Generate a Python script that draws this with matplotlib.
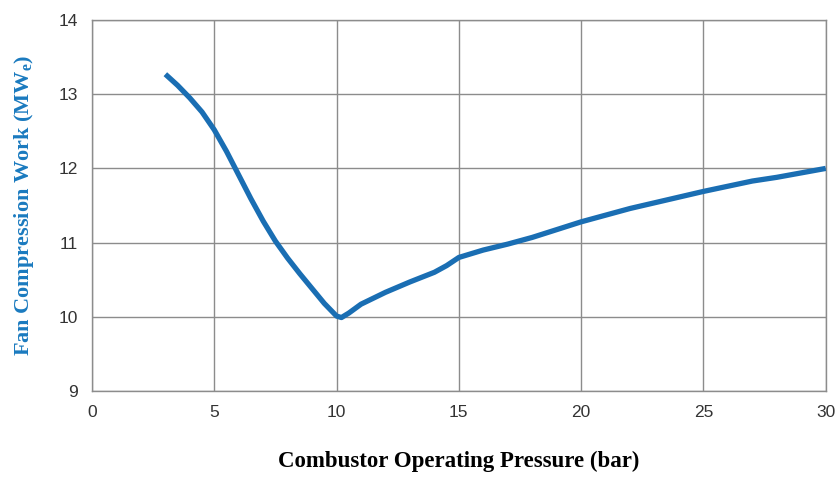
import matplotlib.pyplot as plt

plt.rcParams['mathtext.fontset'] = 'custom'
plt.rcParams['mathtext.rm'] = 'Liberation Serif:bold'
plt.rcParams['mathtext.bf'] = 'Liberation Serif:bold'

# values
pressure = [3, 3.5, 4, 4.5, 5, 5.5, 6, 6.5, 7, 7.5, 8, 8.5, 9, 9.5, 10, 10.2, 10.5, 11, 12, 13, 14, 14.5, 15, 16, 17, 18, 20, 22, 25, 27, 28, 30]
fan_work = [13.27, 13.12, 12.95, 12.76, 12.52, 12.23, 11.91, 11.59, 11.29, 11.02, 10.79, 10.58, 10.38, 10.18, 10.01, 9.99, 10.05, 10.17, 10.33, 10.47, 10.6, 10.69, 10.8, 10.9, 10.98, 11.07, 11.28, 11.46, 11.69, 11.83, 11.88, 12.0]

x_ticks = [0, 5, 10, 15, 20, 25, 30]
y_ticks = [9, 10, 11, 12, 13, 14]

fig = plt.figure(figsize=(8.4, 4.83), dpi=100)
ax = fig.add_axes([0.1095, 0.1905, 0.8735, 0.768])

ax.plot(pressure, fan_work, color='#1a6eb3', linewidth=3.8,
        solid_capstyle='butt', solid_joinstyle='round', zorder=3)

ax.set_xlim(0, 30)
ax.set_ylim(9, 14)
ax.set_xticks(x_ticks)
ax.set_yticks(y_ticks)
ax.grid(True, color='#8c8c8c', linewidth=1.0)
for s in ax.spines.values():
    s.set_color('#8c8c8c')
    s.set_linewidth(1.0)
ax.tick_params(length=0, pad=10, labelsize=12.5, labelcolor='#333333')
for lab in ax.get_xticklabels() + ax.get_yticklabels():
    lab.set_family('Liberation Sans')

ax.set_xlabel('Combustor Operating Pressure (bar)', family='Liberation Serif',
              fontweight='bold', fontsize=16.5, labelpad=22)
ax.set_ylabel('Fan Compression Work (MW$_\\mathrm{e}$)', family='Liberation Serif',
              fontweight='bold', fontsize=16, color='#1a7abf', labelpad=16)

fig.savefig('out.png', dpi=100)
